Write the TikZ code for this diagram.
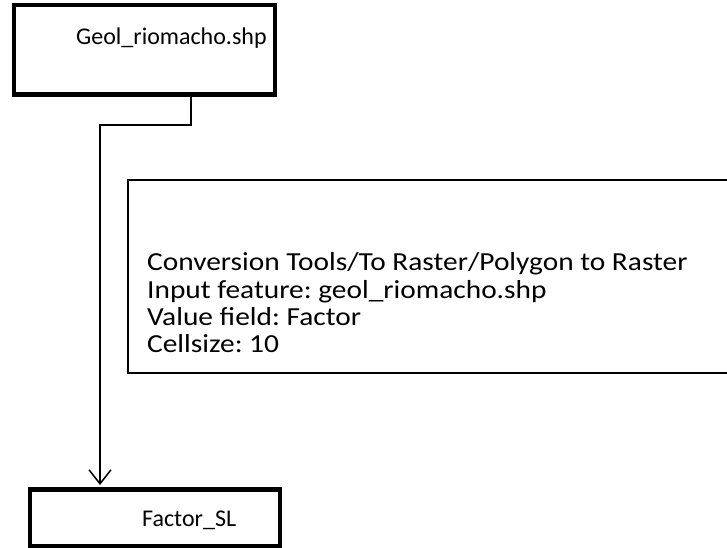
\documentclass[tikz,border=0pt]{standalone}
\usepackage{fontspec}
\setmainfont{Carlito}
\usetikzlibrary{arrows.meta}
\frenchspacing
% the parameter lines are set slightly wide
\newcommand{\widetext}[1]{\scalebox{1.13}[1]{#1}}
\begin{document}
\begin{tikzpicture}[x=1bp,y=-1bp,
  thickbox/.style={draw=black,line width=4.5bp,fill=none,inner sep=0pt},
  thinbox/.style={draw=black,line width=2bp,fill=none,inner sep=0pt},
  title/.style={inner sep=0pt,anchor=base west,font=\fontsize{24bp}{28bp}\selectfont},
  body/.style={inner sep=0pt,anchor=base west,align=left,font=\fontsize{26bp}{27bp}\selectfont},
  conn/.style={draw=black,line width=1.5bp,-{Straight Barb[length=14bp,width=22bp,line width=1.5bp]}}]
  \clip (0,0) rectangle (727,548);
  \fill[white] (0,0) rectangle (727,548);

  % input shapefile
  \node[thickbox,minimum width=260.5bp,minimum height=89.5bp] (geol) at (144.5,50) {};
  \node[title] (geoltext) at (76,45) {Geol\_riomacho.shp};

  % tool parameters (box runs off the right side)
  \node[thinbox,minimum width=640bp,minimum height=193bp,anchor=north west] (tool) at (127,179) {};
  \node[body] (line1) at (147,271) {\widetext{Conversion Tools/To Raster/Polygon to Raster}};
  \node[body] (line2) at (147,298) {\widetext{Input feature: geol\_riomacho.shp}};
  \node[body] (line3) at (147,325) {\widetext{Value field: Factor}};
  \node[body] (line4) at (147,352) {\widetext{Cellsize: 10}};

  % output raster
  \node[thickbox,minimum width=249.5bp,minimum height=56.5bp] (factor) at (155,517.5) {};
  \node[title] (factortext) at (142,526) {Factor\_SL};

  % connector from the shapefile down to the raster
  \coordinate (tap) at (191,0);
  \coordinate (drop) at (100,125);
  \draw[conn,shorten >=2bp] (geol.south -| tap) |- (drop) -- (factor.north -| drop);
\end{tikzpicture}
\end{document}
